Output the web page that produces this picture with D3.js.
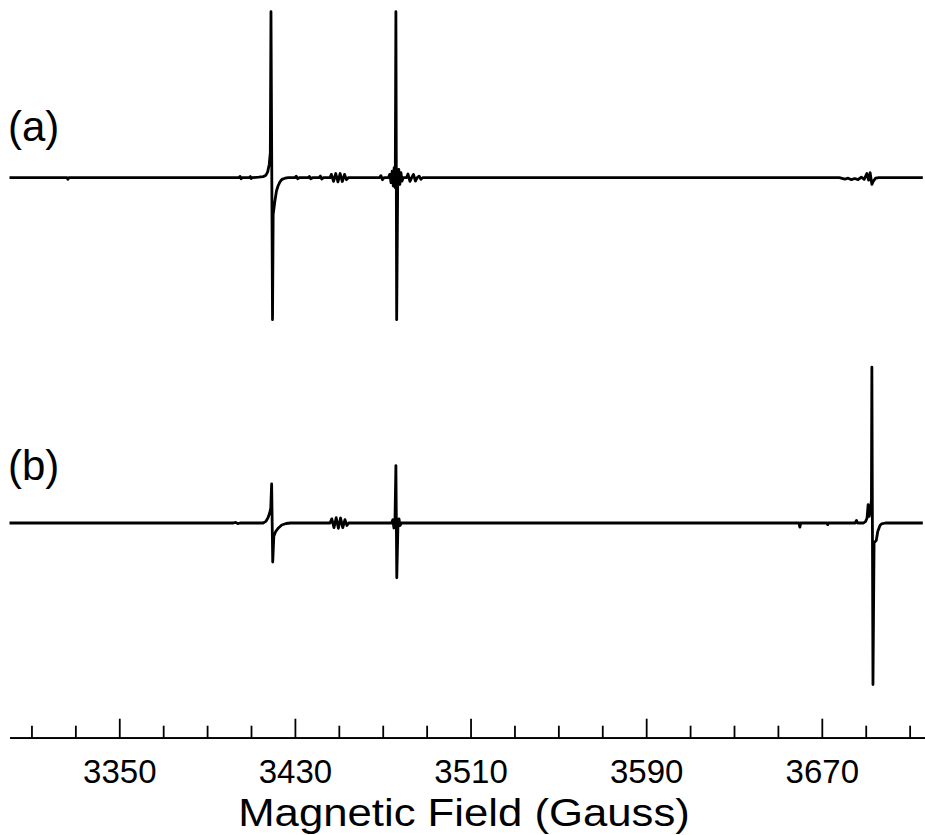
<!DOCTYPE html>
<html>
<head>
<meta charset="utf-8">
<script src="https://cdn.jsdelivr.net/npm/d3@7"></script>
<style>
  html, body { margin: 0; padding: 0; background: #fff; }
  svg { display: block; }
  text { font-family: "Liberation Sans", Arial, sans-serif; fill: #000; }
</style>
</head>
<body>
<svg id="chart" width="925" height="835"></svg>
<script>
// ---- data ----
const fieldDomain = [3300, 3717];
const majorTicks = [3350, 3430, 3510, 3590, 3670];
const minorTicks = [3310, 3330, 3370, 3390, 3410, 3450, 3470, 3490, 3530, 3550, 3570, 3610, 3630, 3650, 3690, 3710];
const panelLabels = ["(a)", "(b)"];
const axisTitle = "Magnetic Field (Gauss)";

// spectrum (a): [field (G), intensity (a.u.)]
const spectrumA = [
  [3300, 0], [3326.2, 0], [3326.6, -0.9], [3327.0, 0],
  [3404.5, 0], [3405.0, 0.8], [3405.5, -0.6], [3406, 0],
  [3409.3, 0], [3409.7, 0.7], [3410.1, -0.5], [3410.5, 0],
  [3413.5, 0.3], [3415.5, 0.6], [3416.8, 1.5], [3417.6, 3.5], [3418.3, 8], [3418.8, 15],
  [3419.1, 100], [3419.8, -85.5], [3420.1, -22], [3420.9, -14], [3421.6, -8], [3422.3, -5],
  [3423.2, -2.5], [3424.1, -1], [3425.5, -0.3], [3427, 0],
  [3430, 0], [3430.6, 0.9], [3431.2, -0.6], [3432, 0], [3436, 0], [3436.6, 0.8], [3437.2, -0.6], [3438, 0],
  [3441, 0], [3441.6, 1], [3442.2, -0.8], [3443, 0],
  [3446.0, 0], [3446.6, 2], [3447.6, -2.2], [3448.6, 2.5], [3449.6, -2.5], [3450.6, 2.5], [3451.6, -2.3],
  [3452.6, 2], [3453.5, -1.2], [3454.3, 0],
  [3468.5, 0], [3469.2, 1.2], [3469.9, -1.2], [3470.6, 0],
  [3472.6, 0], [3473.2, 2], [3473.8, -3], [3474.3, 4], [3474.8, -5], [3475.2, 6], [3475.7, -6],
  [3476.0, 100], [3476.35, -85.5], [3476.8, -6], [3477.3, 5], [3477.8, -4], [3478.3, 3], [3478.8, -2], [3479.3, 0],
  [3480.8, 0], [3481.5, 2.2], [3482.4, -2.2], [3483.2, 0], [3484.0, 2], [3484.9, -2], [3485.7, 0],
  [3486.6, 0.9], [3487.4, -0.9], [3488.2, 0],
  [3678, 0], [3680.5, -0.8], [3682, -0.3], [3683.5, -1.2], [3685, -0.5], [3686.5, -1.2], [3688, 0.3],
  [3689.3, -1.0], [3690.5, 2.5], [3691.3, -1.5], [3692.0, 3], [3692.8, -4], [3693.5, -2], [3694.5, -0.3], [3696, 0],
  [3716, 0]
];

// spectrum (b): [field (G), intensity (a.u.)]
const spectrumB = [
  [3300, 0], [3402, 0], [3403, 0.4], [3404, -0.4], [3405, 0],
  [3415.5, 0], [3416.8, 1], [3417.7, 3], [3418.5, 6], [3419.0, 9],
  [3419.4, 23.5], [3419.9, -23.5], [3420.4, -8], [3421.3, -5], [3422.5, -3], [3424, -1.2], [3426, -0.3], [3428, 0],
  [3446.0, 0], [3446.8, 2.5], [3447.8, -2.8], [3448.8, 3.2], [3449.8, -3.2], [3450.8, 3], [3451.8, -2.8],
  [3452.8, 2], [3453.7, -1.5], [3454.5, 0],
  [3474, 0], [3474.6, 2], [3475.1, -3], [3475.6, 3], [3476.0, 34.6], [3476.4, -33], [3476.9, -3],
  [3477.4, 2.5], [3477.9, -1.5], [3478.5, 0],
  [3659.6, 0], [3660, -2.5], [3660.4, 0], [3672.4, 0], [3672.7, -1], [3673, 0],
  [3685.2, 0], [3685.8, 1.5], [3686.3, 0],
  [3689, 0], [3690, 1], [3690.6, 3], [3691.1, 11], [3691.6, 4], [3692.2, 8], [3692.6, 14],
  [3692.8, 93.9], [3693.3, -97.3], [3693.8, -12], [3694.8, -10.5], [3695.5, -5], [3696.5, -1.5], [3697.2, -0.5], [3699, 0],
  [3716, 0]
];

// ---- drawing ----
const svg = d3.select("#chart");
const x = d3.scaleLinear().domain(fieldDomain).range([9.5, 925]);

const panels = [
  { data: spectrumA, base: 177.7, label: panelLabels[0], labelY: 141 },
  { data: spectrumB, base: 523.0, label: panelLabels[1], labelY: 480 }
];

panels.forEach(p => {
  const y = d3.scaleLinear().domain([-100, 100]).range([p.base + 166, p.base - 166]);
  const line = d3.line().x(d => x(d[0])).y(d => y(d[1]));
  svg.append("path")
    .datum(p.data)
    .attr("d", line)
    .attr("fill", "none")
    .attr("stroke", "#000")
    .attr("stroke-width", 2.8)
    .attr("stroke-linejoin", "round");
  svg.append("text")
    .attr("x", 8)
    .attr("y", p.labelY)
    .attr("font-size", 42)
    .text(p.label);
});

const axisY = 737.7;
const gMinor = svg.append("g").attr("transform", `translate(0,${axisY})`)
  .call(d3.axisBottom(x).tickValues(minorTicks).tickSize(-12).tickSizeOuter(0).tickFormat(""));
const gMajor = svg.append("g").attr("transform", `translate(0,${axisY})`)
  .call(d3.axisBottom(x).tickValues(majorTicks).tickSize(-19).tickSizeOuter(0).tickFormat(d3.format("d")));
[gMinor, gMajor].forEach(g => {
  g.select(".domain").attr("stroke", "#000").attr("stroke-width", 1.8);
  g.selectAll(".tick line").attr("stroke", "#000").attr("stroke-width", 1.8);
});
gMajor.selectAll(".tick text")
  .attr("y", 45).attr("dy", null)
  .attr("font-size", 33)
  .attr("font-family", "Liberation Sans, Arial, sans-serif")
  .attr("fill", "#000");

svg.append("text")
  .attr("transform", "translate(464,826) scale(1.15,1)")
  .attr("text-anchor", "middle")
  .attr("font-size", 38)
  .text(axisTitle);
</script>
</body>
</html>
